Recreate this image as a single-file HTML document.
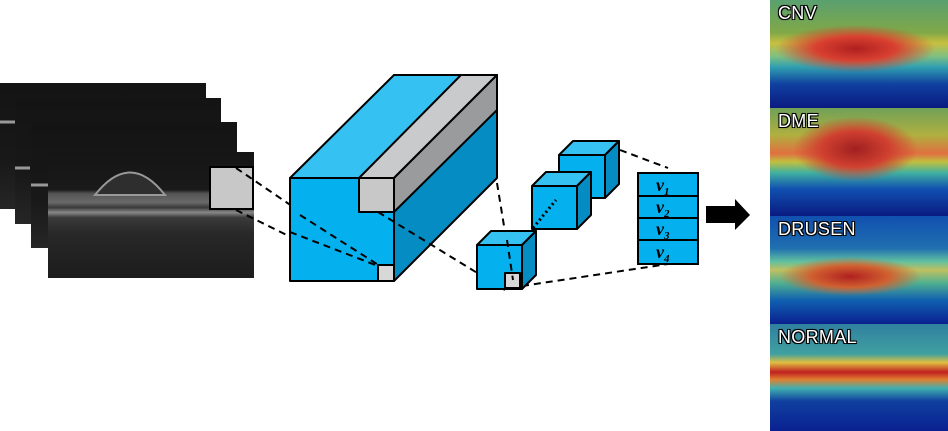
<!DOCTYPE html>
<html><head><style>
body{margin:0;width:948px;height:431px;background:#fff;overflow:hidden;position:relative;font-family:"Liberation Sans",sans-serif}
.oct{position:absolute;background:linear-gradient(#141414 0%,#181818 60%,#262626 100%)}
.hm{position:absolute;left:770px;width:178px;overflow:hidden}
.hm span{position:absolute;left:8px;top:3px;color:#fff;font-size:18px;text-shadow:-1px -1px 0 #000,1px -1px 0 #000,-1px 1px 0 #000,1px 1px 0 #000,0 0 2px #000;letter-spacing:0.3px}
</style></head><body>
<div class="oct" style="left:0;top:83px;width:206px;height:126px"></div>
<div class="oct" style="left:15px;top:98px;width:206px;height:126px"></div>
<div class="oct" style="left:31px;top:122px;width:206px;height:126px"></div>
<div class="oct" style="left:48px;top:152px;width:206px;height:126px;background:linear-gradient(#151515 0%,#1a1a1a 30%,#555 33%,#6a6a6a 40%,#3a3a3a 44%,#888 48%,#3a3a3a 52%,#282828 65%,#1c1c1c 100%)"></div>
<svg style="position:absolute;left:0;top:0" width="948" height="431">
 <path d="M0 122 L15 122 M15 168 L30 168 M31 185 L48 185" stroke="#999" stroke-width="3"/>
 <path d="M95 195 Q130 150 165 195 Z" stroke="#999" stroke-width="2" fill="#2e2e2e"/>
 <rect x="210" y="167" width="43" height="42" fill="#c8c8c8" stroke="#000" stroke-width="2"/>
 <g stroke="#000" stroke-width="2" stroke-dasharray="7,5" fill="none">
  <line x1="236" y1="168" x2="380" y2="266"/>
  <line x1="236" y1="210" x2="380" y2="281"/>
 </g>
 <g stroke="#000" stroke-width="2" stroke-linejoin="round">
  <polygon points="290,178 394,178 497,75 394,75" fill="#36c1f3"/>
  <polygon points="394,178 497,75 497,178 394,281" fill="#058cc2"/>
  <rect x="290" y="178" width="104" height="103" fill="#04b0ee"/>
  <polygon points="359,178 394,178 497,75 461,75" fill="#c9cacc"/>
  <polygon points="394,178 497,75 497,110 394,212" fill="#9a9b9d"/>
  <rect x="359" y="178" width="35" height="34" fill="#c8c8c8"/>
  <rect x="378" y="265" width="16" height="16" fill="#d8d8d8"/>
 </g>
 <g stroke="#000" stroke-width="2" stroke-dasharray="7,5" fill="none">
  <line x1="300" y1="215" x2="380" y2="266"/>
  <line x1="290" y1="232" x2="378" y2="266"/>
  <line x1="497" y1="183" x2="512" y2="275"/>
  <line x1="378" y1="212" x2="505" y2="290"/>
  <line x1="620" y1="150" x2="668" y2="168"/>
  <line x1="522" y1="286" x2="668" y2="264"/>
 </g>
 <g stroke="#000" stroke-width="2" stroke-linejoin="round">
  <polygon points="559,155 605,155 619,141 573,141" fill="#36c1f3"/>
  <polygon points="605,155 619,141 619,184 605,198" fill="#058cc2"/>
  <rect x="559" y="155" width="46" height="43" fill="#04b0ee"/>
  <polygon points="532,186 577,186 591,172 546,172" fill="#36c1f3"/>
  <polygon points="577,186 591,172 591,215 577,229" fill="#058cc2"/>
  <rect x="532" y="186" width="45" height="43" fill="#04b0ee"/>
  <polygon points="477,245 522,245 536,231 491,231" fill="#36c1f3"/>
  <polygon points="522,245 536,231 536,275 522,289" fill="#058cc2"/>
  <rect x="477" y="245" width="45" height="44" fill="#04b0ee"/>
  <rect x="505" y="273" width="15" height="15" fill="#d8d8d8"/>
 </g>
 <line x1="533" y1="228" x2="556" y2="200" stroke="#000" stroke-width="3" stroke-dasharray="2,3"/>
 <line x1="507" y1="240" x2="513" y2="280" stroke="#000" stroke-width="2" stroke-dasharray="7,5"/>
 <g stroke="#000" stroke-width="2" fill="#04b0ee">
  <rect x="638" y="173" width="60" height="23"/><rect x="638" y="196" width="60" height="22"/>
  <rect x="638" y="218" width="60" height="22"/><rect x="638" y="240" width="60" height="24"/>
 </g>
 <g font-family="Liberation Serif,serif" font-style="italic" font-weight="bold" font-size="18" fill="#000">
  <text x="656" y="191">v<tspan font-size="11" dy="4">1</tspan></text>
  <text x="656" y="213">v<tspan font-size="11" dy="4">2</tspan></text>
  <text x="656" y="235">v<tspan font-size="11" dy="4">3</tspan></text>
  <text x="656" y="258">v<tspan font-size="11" dy="4">4</tspan></text>
 </g>
 <polygon points="706,206 735,206 735,199 750,215 735,230 735,223 706,223" fill="#000"/>
</svg>
<div class="hm" style="top:0;height:108px;background:radial-gradient(ellipse 45% 22% at 48% 45%,#b02020 0%,#d84030 50%,transparent 100%),linear-gradient(#5aa070 0%,#80a848 30%,#c8c040 40%,#80c080 52%,#30a0b0 62%,#1040a0 78%,#0a1a80 100%)"><span>CNV</span></div>
<div class="hm" style="top:108px;height:108px;background:radial-gradient(ellipse 35% 30% at 48% 38%,#a02020 0%,#d04030 55%,transparent 100%),linear-gradient(#70a058 0%,#b0b040 25%,#e07040 42%,#c0c040 50%,#40b0a0 60%,#1050b0 75%,#0a1a80 100%)"><span>DME</span></div>
<div class="hm" style="top:216px;height:108px;background:radial-gradient(ellipse 40% 18% at 45% 56%,#b02020 0%,#d06030 55%,transparent 100%),linear-gradient(#1050b0 0%,#2070b0 30%,#60c0a0 42%,#c0c060 50%,#50b090 62%,#1060b0 78%,#0a2090 100%)"><span>DRUSEN</span></div>
<div class="hm" style="top:324px;height:107px;background:linear-gradient(#3080a0 0%,#40a0a0 28%,#e0c040 36%,#c02020 45%,#e08030 52%,#40b0b0 60%,#1040a0 72%,#0a2090 100%)"><span>NORMAL</span></div>
</body></html>
